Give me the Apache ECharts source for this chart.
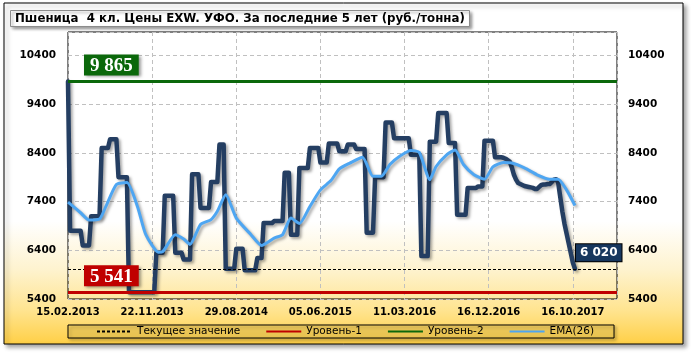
<!DOCTYPE html>
<html>
<head>
<meta charset="utf-8">
<script src="https://cdn.jsdelivr.net/npm/echarts@6/dist/echarts.min.js"></script>
<style>
  html, body { margin: 0; padding: 0; background: #fff; }
  #chart { width: 691px; height: 353px; }
</style>
</head>
<body>
<div id="chart"></div>
<script>
// Подписи оси дат (каждая 40-я неделя)
var xLabels = ['15.02.2013', '22.11.2013', '29.08.2014', '05.06.2015', '11.03.2016', '16.12.2016', '16.10.2017'];
var xMax = 261; // 5 лет недельных точек

// Цена, руб./тонна (по неделям)
var priceVals = [
    9865,
    6800, 6800, 6800, 6800, 6800, 6800,
    6500, 6500, 6500, 6500,
    7100, 7100, 7100, 7100, 7100,
    8500, 8500, 8500, 8500,
    8680, 8680, 8680, 8680,
    7900, 7900, 7900, 7900, 7900,
    5541, 5541, 5541, 5541, 5541, 5541, 5541, 5541, 5541, 5541, 5541, 5541, 5541,
    6350, 6350, 6350, 6350,
    7520, 7520, 7520, 7520, 7520,
    6350, 6350, 6350, 6350,
    6210, 6210, 6210, 6210,
    7960, 7960, 7960, 7960,
    7270, 7270, 7270, 7270, 7270,
    7800, 7800, 7800, 7800,
    8570, 8570, 8570,
    6020, 6020, 6020, 6020, 6020,
    6430, 6430, 6430, 6430,
    5990, 5990, 5990, 5990, 5990, 5990,
    6240, 6240, 6240,
    6960, 6960, 6960, 6960, 6960,
    7000, 7000, 7000, 7000, 7000,
    7990, 7990, 7990,
    6720, 6720, 6720, 6720,
    8090, 8090, 8090, 8090, 8090,
    8500, 8500, 8500, 8500, 8500,
    8200, 8200, 8200, 8200,
    8590, 8590, 8590, 8590, 8590,
    8430, 8430, 8430, 8430,
    8570, 8570, 8570, 8570,
    8480, 8480, 8480, 8480, 8480,
    6760, 6760, 6760, 6760,
    7900, 7900, 7900, 7900, 7900,
    9020, 9020, 9020, 9020,
    8700, 8700, 8700, 8700, 8700, 8700, 8700, 8700,
    8360, 8360, 8360, 8360, 8360,
    6280, 6280, 6280, 6280,
    8630, 8630, 8630, 8630,
    9215, 9215, 9215, 9215, 9215,
    8600, 8600, 8600, 8600,
    7130, 7130, 7130, 7130, 7130,
    7680, 7680, 7680, 7680, 7680,
    7710, 7710, 7710,
    8650, 8650, 8650, 8650, 8650,
    8310, 8310, 8310, 8310,
    8300, 8280, 8250, 8220, 8100, 7950, 7850, 7780, 7760, 7740,
    7720, 7710, 7700, 7690, 7680, 7660, 7660, 7700, 7740, 7750,
    7750, 7760, 7760, 7800, 7850, 7860, 7800, 7500, 7200, 6950,
    6750, 6550, 6350, 6150, 6020
];

// EMA(26) - точки
var emaIdx = [0, 6, 10, 15, 18, 23, 28, 33, 37, 43, 45, 51, 55, 58, 63, 68, 71, 75, 80, 87,
    92, 98, 102, 106, 110, 115, 120, 125, 129, 134, 140, 145, 149, 153, 158, 163, 167, 172, 175, 180,
    184, 188, 193, 198, 202, 207, 211, 217, 223, 229, 233, 237, 241];
var emaVals = [7390, 7170, 7020, 7040, 7300, 7750, 7790, 7300, 6720, 6360, 6370, 6720, 6630, 6520, 6930, 7030, 7200, 7540, 7060, 6720,
    6500, 6650, 6720, 7060, 6950, 7300, 7640, 7830, 8070, 8190, 8310, 7920, 7920, 8160, 8340, 8450, 8410, 7850, 8120, 8360,
    8460, 8160, 7950, 7860, 8110, 8200, 8190, 8090, 7950, 7860, 7860, 7640, 7320];

// Уровни
var level1 = 5541;
var level2 = 9865;
var current = 6020;

function fmt(v) {
    return String(v).replace(/\B(?=(\d{3})+(?!\d))/g, ' ');
}

var priceData = priceVals.map(function (v, i) { return [i, v]; });
var emaData = emaIdx.map(function (x, i) { return [x, emaVals[i]]; });

var chart = echarts.init(document.getElementById('chart'));
var shadow = { shadowColor: 'rgba(0,0,0,0.35)', shadowBlur: 3, shadowOffsetX: 2, shadowOffsetY: 2 };

var yLabel = {
    showMaxLabel: false,
    fontFamily: 'DejaVu Sans',
    fontWeight: 'bold',
    fontSize: 10.5,
    color: '#000',
    formatter: function (v) { return String(v); }
};

chart.setOption({
    animation: false,
    backgroundColor: '#fff',
    graphic: [
        {
            type: 'rect',
            z: -10,
            shape: { x: 4, y: 3, width: 679, height: 341 },
            style: {
                fill: new echarts.graphic.LinearGradient(0, 0, 0, 1, [
                    { offset: 0, color: '#ffffff' },
                    { offset: 0.64, color: '#ffffff' },
                    { offset: 0.78, color: '#fef3cf' },
                    { offset: 0.9, color: '#ffe490' },
                    { offset: 1, color: '#ffcf45' }
                ]),
                stroke: '#000',
                lineWidth: 1,
                shadowColor: 'rgba(0,0,0,0.35)',
                shadowBlur: 4,
                shadowOffsetX: 3,
                shadowOffsetY: 3
            }
        }
    ],
    title: {
        text: 'Пшеница  4 кл. Цены EXW. УФО. За последние 5 лет (руб./тонна)',
        left: 10,
        top: 10,
        padding: [3, 5, 2, 5],
        backgroundColor: '#fff',
        borderColor: '#8c8c8c',
        borderWidth: 1,
        shadowColor: 'rgba(0,0,0,0.4)',
        shadowBlur: 3,
        shadowOffsetX: 2,
        shadowOffsetY: 2,
        textStyle: {
            fontFamily: 'DejaVu Sans',
            fontWeight: 'bold',
            fontSize: 11.8,
            color: '#000'
        }
    },
    legend: {
        data: ['Текущее значение', 'Уровень-1', 'Уровень-2', 'EMA(26)'],
        left: 68,
        top: 325,
        padding: [1, 20, 1, 28],
        itemWidth: 35,
        itemHeight: 10,
        itemGap: 25,
        itemStyle: { opacity: 0 },
        backgroundColor: 'rgba(255,214,90,0.45)',
        borderColor: '#000',
        borderWidth: 1,
        shadowColor: 'rgba(0,0,0,0.35)',
        shadowBlur: 3,
        shadowOffsetX: 2,
        shadowOffsetY: 2,
        textStyle: { fontFamily: 'DejaVu Sans', fontSize: 10.5, color: '#000' }
    },
    grid: {
        left: 68,
        right: 74,
        top: 32,
        bottom: 54,
        containLabel: false,
        outerBoundsMode: 'none',
        show: true,
        borderColor: '#000',
        borderWidth: 1
    },
    xAxis: {
        type: 'value',
        min: 0,
        max: xMax,
        interval: 40,
        axisLine: { show: false },
        axisTick: { show: false },
        axisLabel: {
            margin: 8,
            showMaxLabel: false,
            fontFamily: 'DejaVu Sans',
            fontWeight: 'bold',
            fontSize: 10,
            color: '#000',
            formatter: function (v) {
                return xLabels[v / 40] || '';
            }
        },
        splitLine: { lineStyle: { color: '#c0c0c0', type: [4, 3] } }
    },
    yAxis: [
        {
            type: 'value',
            min: 5400,
            max: 10880,
            interval: 1000,
            axisLine: { show: false },
            axisTick: { show: false },
            axisLabel: Object.assign({ margin: 12 }, yLabel),
            splitLine: { lineStyle: { color: '#c0c0c0', type: [4, 3] } }
        },
        {
            type: 'value',
            position: 'right',
            min: 5400,
            max: 10880,
            interval: 1000,
            axisLine: { show: false },
            axisTick: { show: false },
            axisLabel: Object.assign({ margin: 11 }, yLabel),
            splitLine: { show: false }
        }
    ],
    series: [
        {
            name: 'Цена',
            type: 'line',
            data: priceData,
            symbol: 'none',
            z: 3,
            lineStyle: Object.assign({ color: '#243e62', width: 4.5, join: 'round', cap: 'round' }, shadow),
            endLabel: {
                show: true,
                formatter: function (p) { return fmt(p.value[1]); },
                distance: 1,
                offset: [0, -16],
                backgroundColor: '#17375e',
                borderColor: '#000',
                borderWidth: 1,
                padding: [3, 4, 2, 4],
                color: '#fff',
                fontFamily: 'DejaVu Sans',
                fontWeight: 'bold',
                fontSize: 12
            }
        },
        {
            name: 'Текущее значение',
            type: 'line',
            data: [],
            symbol: 'none',
            z: 2,
            lineStyle: { color: '#000', width: 1, type: [3, 2] },
            itemStyle: { color: '#000' },
            markLine: {
                silent: true,
                symbol: 'none',
                label: { show: false },
                lineStyle: { color: '#000', width: 1, type: [3, 2] },
                data: [{ yAxis: current }]
            }
        },
        {
            name: 'Уровень-1',
            type: 'line',
            data: [],
            symbol: 'none',
            z: 2,
            lineStyle: { color: '#c00000', width: 3 },
            itemStyle: { color: '#c00000' },
            markLine: {
                silent: true,
                symbol: 'none',
                lineStyle: { color: '#c00000', width: 3, type: 'solid' },
                label: {
                    show: true,
                    position: 'insideStartTop',
                    distance: [16, 6],
                    formatter: function (p) { return fmt(p.value); },
                    backgroundColor: '#c00000',
                    padding: [2, 6, 0, 6],
                    color: '#fff',
                    fontFamily: 'Liberation Serif',
                    fontWeight: 'bold',
                    fontSize: 19,
                    shadowColor: 'rgba(0,0,0,0.4)',
                    shadowBlur: 3,
                    shadowOffsetX: 2,
                    shadowOffsetY: 2
                },
                data: [{ yAxis: level1 }]
            }
        },
        {
            name: 'Уровень-2',
            type: 'line',
            data: [],
            symbol: 'none',
            z: 2,
            lineStyle: { color: '#0b680b', width: 3 },
            itemStyle: { color: '#0b680b' },
            markLine: {
                silent: true,
                symbol: 'none',
                lineStyle: { color: '#0b680b', width: 3, type: 'solid' },
                label: {
                    show: true,
                    position: 'insideStartTop',
                    distance: [16, 6],
                    formatter: function (p) { return fmt(p.value); },
                    backgroundColor: '#0b680b',
                    padding: [2, 6, 0, 6],
                    color: '#fff',
                    fontFamily: 'Liberation Serif',
                    fontWeight: 'bold',
                    fontSize: 19,
                    shadowColor: 'rgba(0,0,0,0.4)',
                    shadowBlur: 3,
                    shadowOffsetX: 2,
                    shadowOffsetY: 2
                },
                data: [{ yAxis: level2 }]
            }
        },
        {
            name: 'EMA(26)',
            type: 'line',
            data: emaData,
            symbol: 'none',
            smooth: 0.2,
            z: 4,
            lineStyle: Object.assign({ color: '#4ea6f2', width: 3 }, shadow),
            itemStyle: { color: '#4ea6f2' }
        }
    ]
});
</script>
</body>
</html>
